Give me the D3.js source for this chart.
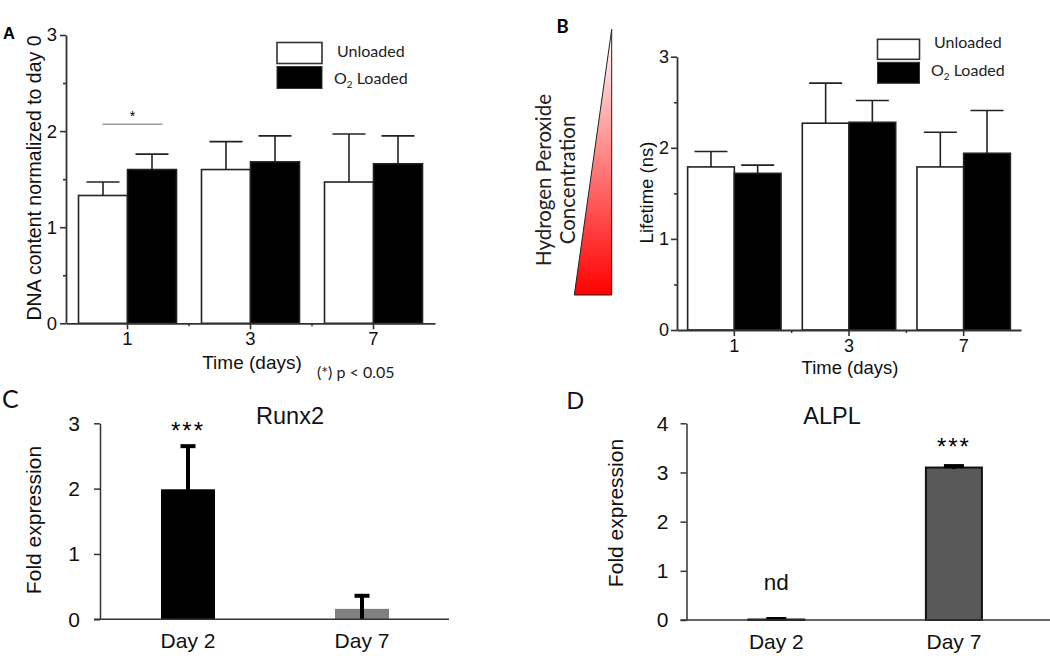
<!DOCTYPE html>
<html><head><meta charset="utf-8">
<script src="https://cdn.jsdelivr.net/npm/d3@7"></script>
<style>
html,body{margin:0;padding:0;background:#fff;}
svg{display:block;}
.arial{font-family:"Liberation Sans",Arial,sans-serif;}
.lato{font-family:Lato,"Open Sans",sans-serif;}
</style></head>
<body>
<svg id="chart" width="1050" height="659"></svg>
<script>
// ---------- DATA ----------
const timeCats = ["1", "3", "7"];
const seriesNames = ["Unloaded", "O2 Loaded"];
const dnaUnloaded = [1.33, 1.60, 1.47];
const dnaUnloadedErr = [0.14, 0.29, 0.50];
const dnaLoaded = [1.60, 1.68, 1.66];
const dnaLoadedErr = [0.16, 0.27, 0.29];
const lifeUnloaded = [1.79, 2.27, 1.79];
const lifeUnloadedErr = [0.17, 0.44, 0.38];
const lifeLoaded = [1.72, 2.28, 1.94];
const lifeLoadedErr = [0.09, 0.24, 0.47];
const abMajorTicks = [0, 1, 2, 3];
const abMinorTicks = [0.5, 1.5, 2.5];
const geneCats = ["Day 2", "Day 7"];
const runx2 = [1.99, 0.16];
const runx2Err = [0.66, 0.20];
const runx2Ticks = [0, 1, 2, 3];
const alpl = [0.01, 3.10];
const alplErr = [0.01, 0.03];
const alplTicks = [0, 1, 2, 3, 4];

const svg = d3.select("#chart");

// gradient for triangle
const defs = svg.append("defs");
const grad = defs.append("linearGradient").attr("id","h2o2").attr("x1",0).attr("y1",0).attr("x2",0).attr("y2",1);
grad.append("stop").attr("offset","0%").attr("stop-color","#ffffff");
grad.append("stop").attr("offset","100%").attr("stop-color","#ff0000");

function groupedPanel(o) {
  const g = svg.append("g");
  const x = d3.scaleBand().domain(timeCats).range(o.xr);
  const y = d3.scaleLinear().domain([0, 3]).range(o.yr);
  const sub = d3.scaleBand().domain(seriesNames).range([-o.bw, o.bw]);
  const series = [
    {name: seriesNames[0], vals: o.u, errs: o.ue, fill: "#fff"},
    {name: seriesNames[1], vals: o.l, errs: o.le, fill: "#000"}
  ];
  series.forEach(s => {
    timeCats.forEach((c, i) => {
      const x0 = x(c) + x.bandwidth() / 2 + sub(s.name);
      const cx = x0 + sub.bandwidth() / 2;
      const v = s.vals[i], e = s.errs[i];
      g.append("line").attr("x1", cx).attr("x2", cx).attr("y1", y(v)).attr("y2", y(v + e))
        .attr("stroke", "#222").attr("stroke-width", 1.6);
      g.append("line").attr("x1", cx - o.cap / 2).attr("x2", cx + o.cap / 2)
        .attr("y1", y(v + e)).attr("y2", y(v + e)).attr("stroke", "#222").attr("stroke-width", 1.6);
      g.append("rect").attr("x", x0).attr("width", sub.bandwidth())
        .attr("y", y(v)).attr("height", y(0) - y(v))
        .attr("fill", s.fill).attr("stroke", "#222").attr("stroke-width", 1.6);
    });
  });
  // y axis
  const ya = g.append("g").attr("transform", `translate(${o.xr[0]},0)`).attr("class","arial")
    .call(d3.axisLeft(y).tickValues(abMajorTicks).tickFormat(d3.format("d")).tickSize(6).tickSizeOuter(0).tickPadding(o.tp));
  g.append("g").attr("transform", `translate(${o.xr[0]},0)`)
    .call(d3.axisLeft(y).tickValues(abMinorTicks).tickFormat("").tickSize(3).tickSizeOuter(0))
    .select(".domain").remove();
  // x axis
  const xa = g.append("g").attr("transform", `translate(0,${o.yr[0]})`).attr("class","arial")
    .call(d3.axisBottom(x).tickSize(6).tickSizeOuter(0).tickPadding(o.xtp));
  timeCats.slice(1).forEach(c => {
    g.append("line").attr("x1", x(c)).attr("x2", x(c)).attr("y1", o.yr[0]).attr("y2", o.yr[0] + 3)
      .attr("stroke", "#333").attr("stroke-width", 1.5);
  });
  [ya, xa].forEach(a => {
    a.selectAll("path,line").attr("stroke", "#333").attr("stroke-width", 1.8);
    a.selectAll("text").attr("font-size", o.fs).attr("fill", "#111")
      .attr("font-family", '"Liberation Sans",Arial,sans-serif');
  });
  g.selectAll(".tick line").attr("stroke", "#333").attr("stroke-width", 1.6);
  // legend
  const lg = g.append("g").attr("class","lato");
  lg.append("rect").attr("x", o.lx).attr("y", o.ly).attr("width", o.lw).attr("height", o.lh)
    .attr("fill", "#fff").attr("stroke", "#333").attr("stroke-width", 1.6);
  lg.append("rect").attr("x", o.lx).attr("y", o.ly + o.lh + 3).attr("width", o.lw).attr("height", o.lh + 1)
    .attr("fill", "#000").attr("stroke", "#333").attr("stroke-width", 1);
  lg.append("text").attr("x", o.tx).attr("y", o.t1y).attr("font-size", 16).attr("fill", "#222")
    .text(seriesNames[0]);
  const t2 = lg.append("text").attr("x", o.tx - 3).attr("y", o.t2y).attr("font-size", 16).attr("fill", "#222");
  t2.append("tspan").text("O");
  t2.append("tspan").attr("font-size", 10).attr("dy", 4).text("2");
  t2.append("tspan").attr("dy", -4).text(" Loaded");
  return {x, y, g};
}

// ---------- Panel A ----------
const A = groupedPanel({xr: [66, 435], yr: [323.3, 35], bw: 49, cap: 33, u: dnaUnloaded, ue: dnaUnloadedErr,
  l: dnaLoaded, le: dnaLoadedErr, fs: 18.5, tp: 3, xtp: 3,
  lx: 277, ly: 42.5, lw: 45, lh: 21, tx: 337, t1y: 57, t2y: 84});
// significance
const sigX0 = A.x("1") + A.x.bandwidth() / 2 - 25, sigX1 = A.x("1") + A.x.bandwidth() / 2 + 35;
A.g.append("line").attr("x1", sigX0).attr("x2", sigX1).attr("y1", A.y(2.07)).attr("y2", A.y(2.07))
  .attr("stroke", "#999").attr("stroke-width", 1.5);
A.g.append("text").attr("class","arial").attr("x", (sigX0 + sigX1) / 2).attr("y", 121).attr("text-anchor","middle")
  .attr("font-size", 14).text("*");
svg.append("text").attr("class","arial").attr("font-size", 19.5).attr("fill","#111")
  .attr("text-anchor","middle").attr("transform","translate(41,178) rotate(-90)").text("DNA content normalized to day 0");
svg.append("text").attr("class","arial").attr("x", 252).attr("y", 369).attr("font-size", 19).attr("fill","#111")
  .attr("text-anchor","middle").text("Time (days)");
svg.append("text").attr("class","lato").attr("x", 317).attr("y", 378).attr("font-size", 16).attr("fill","#222")
  .text("(*) p < 0.05");
svg.append("text").attr("class","arial").attr("x", 3).attr("y", 38.5).attr("font-size", 16.5).attr("font-weight","bold")
  .text("A");

// ---------- Panel B ----------
const B = groupedPanel({xr: [677, 1021], yr: [330, 56.7], bw: 46.7, cap: 33, u: lifeUnloaded, ue: lifeUnloadedErr,
  l: lifeLoaded, le: lifeLoadedErr, fs: 18, tp: 2, xtp: 3,
  lx: 877.5, ly: 39.3, lw: 42, lh: 20, tx: 934, t1y: 48, t2y: 76});
svg.append("text").attr("class","arial").attr("font-size", 18.5).attr("fill","#111")
  .attr("text-anchor","middle").attr("transform","translate(653,192.5) rotate(-90)").text("Lifetime (ns)");
svg.append("text").attr("class","arial").attr("x", 850).attr("y", 374).attr("font-size", 18.5).attr("fill","#111")
  .attr("text-anchor","middle").text("Time (days)");
svg.append("text").attr("class","lato").attr("x", 556.5).attr("y", 33.3).attr("font-size", 18.5).attr("font-weight","bold")
  .text("B");
// triangle
svg.append("path").attr("d", "M611.7,29.3 L611.7,295 L574.3,295 Z")
  .attr("fill","url(#h2o2)").attr("stroke","#222").attr("stroke-width",1);
svg.append("text").attr("class","lato").attr("font-size", 20.5).attr("fill","#222")
  .attr("text-anchor","middle").attr("transform","translate(551,180) rotate(-90)").text("Hydrogen Peroxide");
svg.append("text").attr("class","lato").attr("font-size", 20.5).attr("fill","#222")
  .attr("text-anchor","middle").attr("transform","translate(575,180) rotate(-90)").text("Concentration");

// ---------- Gene panels ----------
function genePanel(o) {
  const g = svg.append("g");
  const x = d3.scaleBand().domain(geneCats).range(o.xr);
  const y = d3.scaleLinear().domain([0, o.max]).range(o.yr);
  geneCats.forEach((c, i) => {
    const cx = x(c) + x.bandwidth() / 2;
    const v = o.vals[i], e = o.errs[i];
    g.append("rect").attr("x", cx - o.bw / 2).attr("width", o.bw).attr("y", y(v)).attr("height", y(0) - y(v))
      .attr("fill", o.fills[i]).attr("stroke", o.stroke ? "#111" : "none").attr("stroke-width", 2);
    g.append("line").attr("x1", cx).attr("x2", cx).attr("y1", y(Math.max(0, v - e))).attr("y2", y(v + e))
      .attr("stroke", "#000").attr("stroke-width", 4);
    g.append("line").attr("x1", cx - o.cap / 2).attr("x2", cx + o.cap / 2).attr("y1", y(v + e)).attr("y2", y(v + e))
      .attr("stroke", "#000").attr("stroke-width", 4);
  });
  const ya = g.append("g").attr("transform", `translate(${o.xr[0] - 1},0)`)
    .call(d3.axisLeft(y).tickValues(o.ticks).tickFormat(d3.format("d")).tickSize(6).tickSizeOuter(0).tickPadding(o.tp));
  ya.selectAll("path,line").attr("stroke", "#333").attr("stroke-width", 1.5);
  ya.selectAll("text").attr("font-size", 21).attr("fill","#111").attr("font-family",'"Liberation Sans",Arial,sans-serif');
  const xa = g.append("g").attr("transform", `translate(0,${o.yr[0]})`)
    .call(d3.axisBottom(x).tickSize(0).tickPadding(14));
  xa.select(".domain").remove();
  xa.selectAll("text").attr("font-size", 21).attr("fill","#111").attr("font-family",'"Liberation Sans",Arial,sans-serif');
  g.append("line").attr("x1", o.xr[0] - 7).attr("x2", o.xEnd).attr("y1", o.yr[0]).attr("y2", o.yr[0])
    .attr("stroke", "#333").attr("stroke-width", 1.5);
  g.append("text").attr("class","arial").attr("x", o.titleX).attr("y", 423.5).attr("text-anchor","middle")
    .attr("font-size", 23.5).attr("fill","#111").text(o.title);
  g.append("text").attr("class","arial").attr("font-size", 21).attr("fill","#111").attr("text-anchor","middle")
    .attr("transform", `translate(${o.labX},${o.labY}) rotate(-90)`).text("Fold expression");
  return {x, y, g};
}

const C = genePanel({xr: [101, 449], yr: [619.3, 423.3], max: 3, vals: runx2, errs: runx2Err, ticks: runx2Ticks,
  fills: ["#000", "#808080"], stroke: false, bw: 54, cap: 15, tp: 14, xEnd: 449, title: "Runx2", titleX: 290,
  labX: 41, labY: 520});
C.g.append("text").attr("class","arial").attr("x", C.x("Day 2") + C.x.bandwidth() / 2).attr("y", 439)
  .attr("text-anchor","middle").attr("font-size", 24).attr("letter-spacing", 2).text("***");
svg.append("text").attr("class","lato").attr("x", 2).attr("y", 408).attr("font-size", 25).attr("fill","#111").text("C");

const D = genePanel({xr: [687.5, 1042.7], yr: [620, 423.3], max: 4, vals: alpl, errs: alplErr, ticks: alplTicks,
  fills: ["#595959", "#595959"], stroke: true, bw: 56, cap: 20, tp: 12, xEnd: 1050, title: "ALPL", titleX: 832,
  labX: 623, labY: 513});
D.g.append("text").attr("class","arial").attr("x", D.x("Day 7") + D.x.bandwidth() / 2).attr("y", 455)
  .attr("text-anchor","middle").attr("font-size", 24).attr("letter-spacing", 2).text("***");
D.g.append("text").attr("class","arial").attr("x", D.x("Day 2") + D.x.bandwidth() / 2).attr("y", 590)
  .attr("text-anchor","middle").attr("font-size", 22.5).attr("fill","#111").text("nd");
svg.append("text").attr("class","arial").attr("x", 566.5).attr("y", 409.3).attr("font-size", 24.5).attr("fill","#111").text("D");
</script>
</body></html>
